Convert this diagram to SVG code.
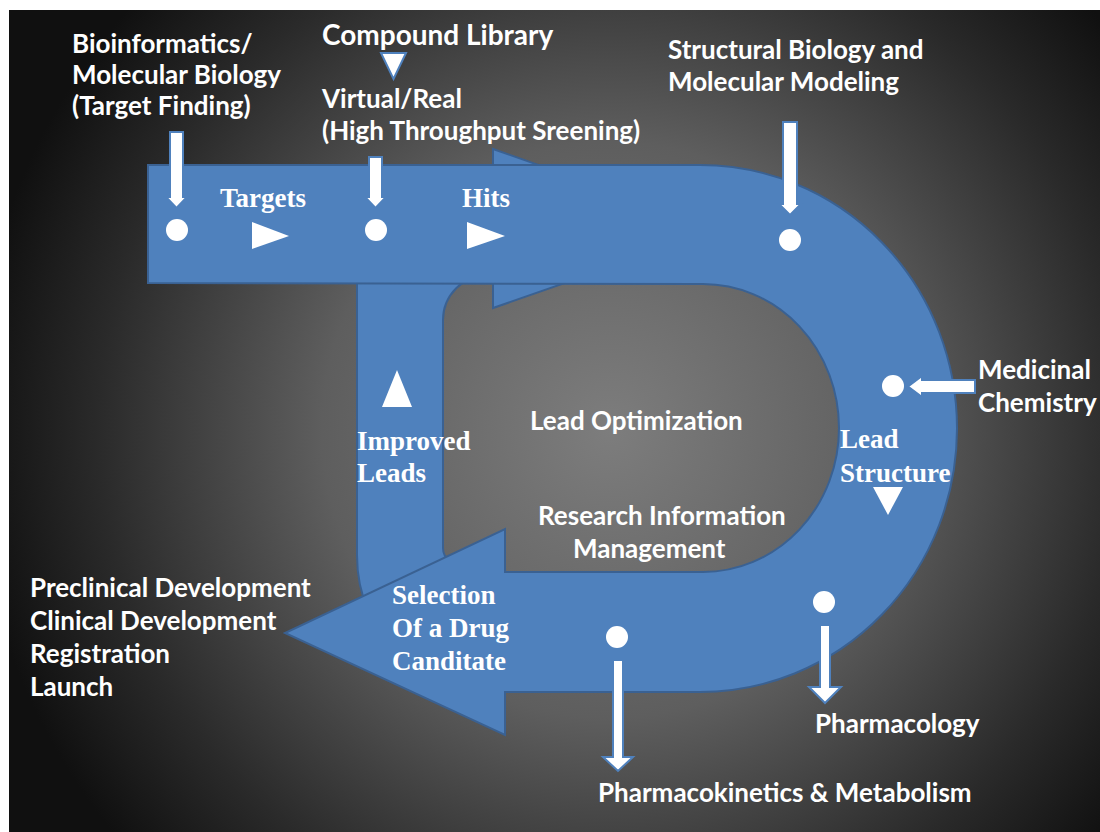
<svg xmlns="http://www.w3.org/2000/svg" width="1100" height="832" viewBox="0 0 1100 832">
<defs>
<radialGradient id="bg" gradientUnits="userSpaceOnUse" cx="610" cy="430" r="640">
<stop offset="0" stop-color="#7d7d7d"/>
<stop offset="0.45" stop-color="#5e5e5e"/>
<stop offset="0.8" stop-color="#2a2a2a"/>
<stop offset="1" stop-color="#101010"/>
</radialGradient>
<style>
.band{fill:#4F81BD;stroke:#3A6192;stroke-width:2;stroke-linejoin:miter}
.sans{font-family:Lato,"Open Sans",sans-serif;font-weight:bold;font-size:26px;fill:#fff}
.big{font-size:28px}
.serif{font-family:"Liberation Serif","Times New Roman",serif;font-weight:bold;font-size:27px;fill:#fff}
.dot{fill:#fff}
.tri{fill:#fff}
.warrow{fill:#fff;stroke:#4F81BD;stroke-width:2;stroke-linejoin:miter}
</style>
</defs>
<rect x="0" y="0" width="1100" height="832" fill="#fff"/>
<rect x="9" y="10" width="1091" height="822" fill="url(#bg)"/>

<g id="improved-leads-loop">
<path class="band" d="M 357 200 L 493 200 L 493 149 L 720 229 L 493 308 L 493 275 L 488 275 A 45 45 0 0 0 443 320 L 443 548 Q 443 556 450 562 L 450 610 L 368 610 Q 357 585 357 555 Z"/>
</g>

<g id="main-u-arrow">
<path class="band" d="M 148 165 L 700 165 A 257 263.5 0 0 1 700 692 L 505 692 L 505 735 L 285 633 L 505 529 L 505 572 L 703 572 A 136 144 0 0 0 703 284 L 148 283 Z"/>
</g>

<g id="flow-markers">
<polygon class="tri" points="252,222 252,249 289,236"/>
<polygon class="tri" points="467,222 467,249 505,236"/>
<polygon class="tri" points="382,407 412,407 397,370"/>
<polygon class="tri" points="873,487 903,487 888,515"/>
<circle class="dot" cx="177" cy="230" r="11"/>
<circle class="dot" cx="376" cy="230" r="11"/>
<circle class="dot" cx="790" cy="240" r="11"/>
<circle class="dot" cx="893" cy="386" r="11"/>
<circle class="dot" cx="824" cy="602" r="11"/>
<circle class="dot" cx="617" cy="637" r="11"/>
</g>

<g id="connectors">
<polygon class="warrow" points="170,132 183,132 183,197 187,197 176.5,208 166,197 170,197"/>
<polygon class="warrow" points="369,157 382,157 382,197 386,197 375.5,208 365,197 369,197"/>
<polygon class="warrow" points="783,122 797,122 797,204 801,204 790,215 779,204 783,204"/>
<polygon class="warrow" points="975,380 975,393 922,393 922,397 908,386.5 922,376 922,380"/>
<polygon class="warrow" points="820,625 830,625 830,687 841,687 825,703 809,687 820,687"/>
<polygon class="warrow" points="613,660 623,660 623,757 633,757 618,771 603,757 613,757"/>
<polygon class="warrow" points="381,53 406,53 393.5,79" stroke-width="3"/>
</g>

<g id="node-bioinformatics">
<text class="sans" x="72" y="53">Bioinformatics/</text>
<text class="sans" x="72" y="84">Molecular Biology</text>
<text class="sans" x="72" y="115">(Target Finding)</text>
</g>
<g id="node-compound-library">
<text class="sans big" x="322" y="45">Compound Library</text>
</g>
<g id="node-hts">
<text class="sans" x="322" y="108">Virtual/Real</text>
<text class="sans" x="322" y="140">(High Throughput Sreening)</text>
</g>
<g id="node-structural">
<text class="sans" x="668" y="59">Structural Biology and</text>
<text class="sans" x="668" y="91">Molecular Modeling</text>
</g>
<g id="node-medicinal">
<text class="sans" x="978" y="379">Medicinal</text>
<text class="sans" x="978" y="412">Chemistry</text>
</g>
<g id="node-lead-optimization">
<text class="sans" x="530" y="430">Lead Optimization</text>
</g>
<g id="node-research-info">
<text class="sans" x="538" y="525">Research Information</text>
<text class="sans" x="573" y="558">Management</text>
</g>
<g id="node-development">
<text class="sans" x="30" y="597">Preclinical Development</text>
<text class="sans" x="30" y="630">Clinical Development</text>
<text class="sans" x="30" y="663">Registration</text>
<text class="sans" x="30" y="696">Launch</text>
</g>
<g id="node-pharmacology">
<text class="sans" x="815" y="733">Pharmacology</text>
</g>
<g id="node-pk">
<text class="sans" x="598" y="802">Pharmacokinetics &amp; Metabolism</text>
</g>
<g id="label-targets"><text class="serif" x="220" y="207">Targets</text></g>
<g id="label-hits"><text class="serif" x="462" y="207">Hits</text></g>
<g id="label-improved-leads">
<text class="serif" x="357" y="450">Improved</text>
<text class="serif" x="357" y="482">Leads</text>
</g>
<g id="label-lead-structure">
<text class="serif" x="840" y="448">Lead</text>
<text class="serif" x="840" y="482">Structure</text>
</g>
<g id="label-selection">
<text class="serif" x="392" y="604">Selection</text>
<text class="serif" x="392" y="637">Of a Drug</text>
<text class="serif" x="392" y="670">Canditate</text>
</g>
</svg>
